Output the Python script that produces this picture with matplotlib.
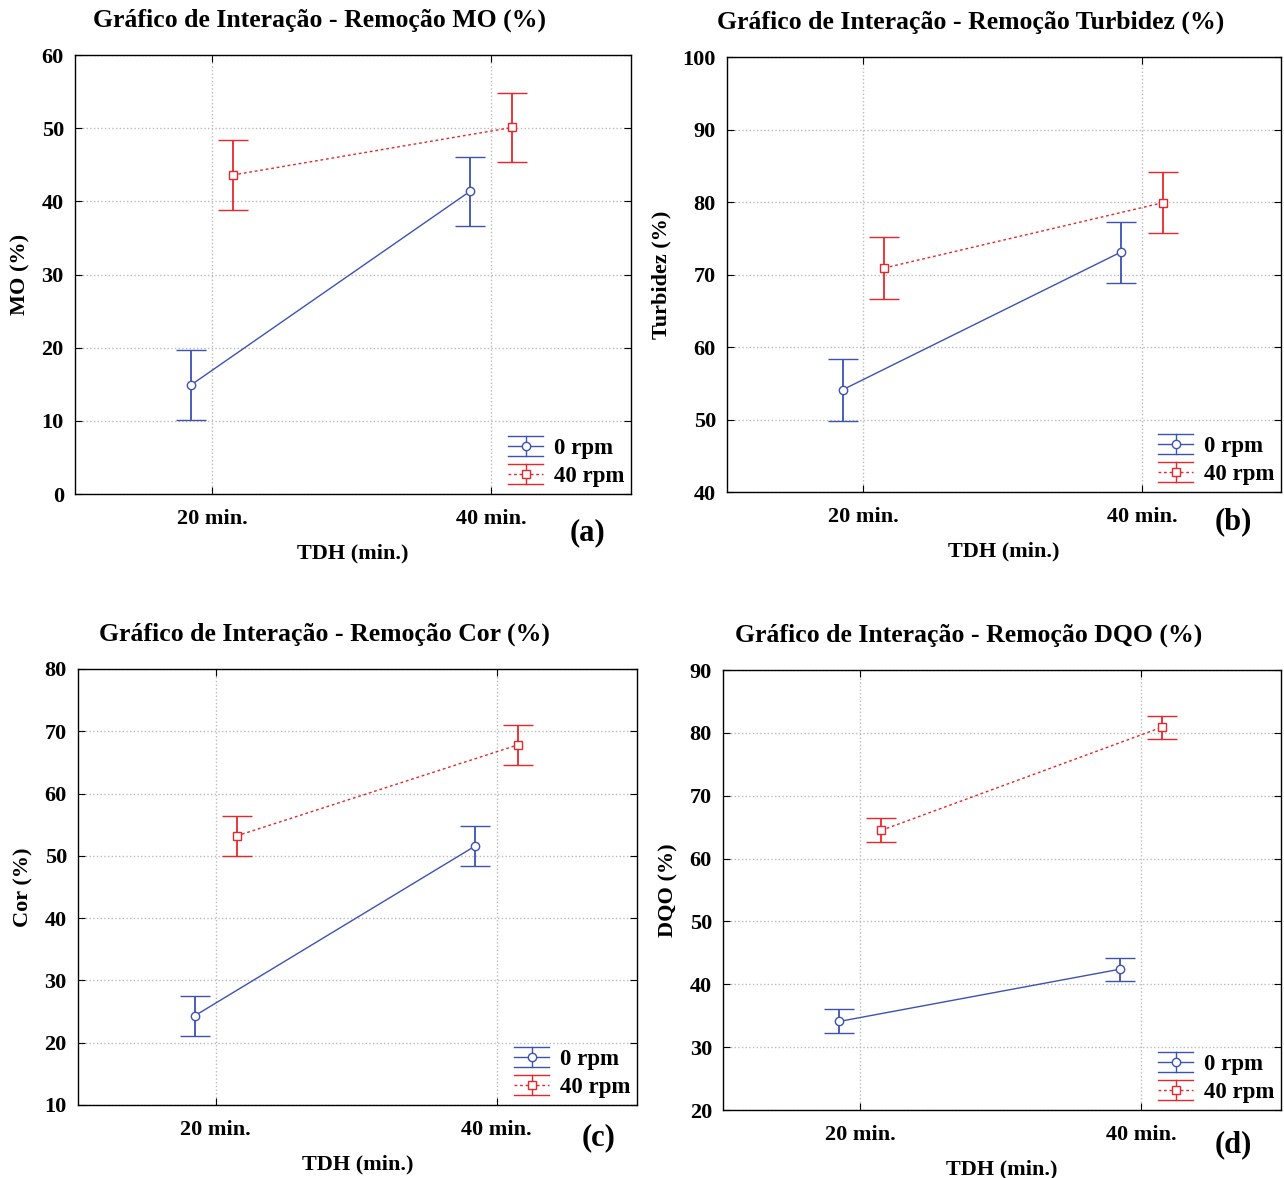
import matplotlib.pyplot as plt
from matplotlib.legend_handler import HandlerBase
from matplotlib.lines import Line2D
import numpy as np

plt.rcParams['font.family'] = ['Liberation Serif', 'DejaVu Serif']
plt.rcParams['font.weight'] = 'bold'

categorias = ["20 min.", "40 min."]
series = ["0 rpm", "40 rpm"]

titulos = ["Gráfico de Interação - Remoção MO (%)",
           "Gráfico de Interação - Remoção Turbidez (%)",
           "Gráfico de Interação - Remoção Cor (%)",
           "Gráfico de Interação - Remoção DQO (%)"]
ylabels = ["MO (%)", "Turbidez (%)", "Cor (%)", "DQO (%)"]
letras = ["(a)", "(b)", "(c)", "(d)"]
ylims = [(0, 60), (40, 100), (10, 80), (20, 90)]

# means [0 rpm, 40 rpm] at [20, 40 min]
mo_0 = [14.9, 41.4]
mo_40 = [43.6, 50.1]
mo_err = [4.8, 4.7]
turb_0 = [54.1, 73.1]
turb_40 = [70.9, 79.9]
turb_err = [4.3, 4.2]
cor_0 = [24.3, 51.6]
cor_40 = [53.2, 67.8]
cor_err = [3.2, 3.2]
dqo_0 = [34.1, 42.4]
dqo_40 = [64.5, 80.9]
dqo_err = [1.9, 1.8]

dados = [(mo_0, mo_40, mo_err), (turb_0, turb_40, turb_err),
         (cor_0, cor_40, cor_err), (dqo_0, dqo_40, dqo_err)]

posicoes = [[0.0584, 0.5806, 0.4330, 0.3727],
            [0.5662, 0.5823, 0.4315, 0.3693],
            [0.0607, 0.0620, 0.4354, 0.3701],
            [0.5631, 0.0577, 0.4346, 0.3735]]
# panel letter offsets from lower-right corner, in pixels
letra_dx = [-43, -48, -38, -48]
letra_dy = [-39, -30, -33, -35]

azul = '#3d52b4'
vermelho = '#e8262b'


class HandlerBarra(HandlerBase):
    # legend key: caps top and bottom, line with marker in the middle
    def __init__(self, color, ls, marker, ms):
        super().__init__()
        self.color = color
        self.ls = ls
        self.marker = marker
        self.ms = ms

    def create_artists(self, legend, orig_handle, xdescent, ydescent,
                       width, height, fontsize, trans):
        x0 = -xdescent
        x1 = x0 + width
        xm = (x0 + x1) / 2
        ym = -ydescent + height / 2
        h = height * 0.62
        arts = [
            Line2D([x0, x1], [ym + h, ym + h], color=self.color, lw=1.0),
            Line2D([x0, x1], [ym - h, ym - h], color=self.color, lw=1.0),
            Line2D([xm, xm], [ym - h, ym + h], color=self.color, lw=1.0),
            Line2D([x0, x1], [ym, ym], color=self.color, lw=1.0, ls=self.ls),
            Line2D([xm], [ym], color=self.color, marker=self.marker, ms=self.ms,
                   mfc='white', mec=self.color, ls='none'),
        ]
        for a in arts:
            a.set_transform(trans)
        return arts


fig = plt.figure(figsize=(12.84, 11.78), dpi=100)
x = np.arange(len(categorias))
px = 0.72  # points per pixel at dpi 100
for i in range(4):
    ax = fig.add_axes(posicoes[i])
    s0, s40, err = dados[i]
    ax.errorbar(x - 0.075, s0, yerr=err, color=azul, lw=1.0, ls='-',
                marker='o', ms=6, mfc='white', mec=azul, capsize=10.5,
                capthick=1.0, elinewidth=1.3)
    ax.errorbar(x + 0.075, s40, yerr=err, color=vermelho, lw=1.0, ls=(0, (2, 2)),
                marker='s', ms=6, mfc='white', mec=vermelho, capsize=10.5,
                capthick=1.0, elinewidth=1.3)
    ax.set_xlim(-0.49, 1.5)
    ax.set_ylim(*ylims[i])
    ax.set_xticks(x)
    ax.set_xticklabels(categorias)
    ax.grid(True, ls=':', color='#bbbbbb', lw=1.0)
    ax.tick_params(direction='in', top=True, right=True, labelsize=16, length=5)
    ax.tick_params(axis='x', pad=11)
    ax.tick_params(axis='y', pad=8)
    for lab in ax.get_xticklabels() + ax.get_yticklabels():
        lab.set_fontweight('bold')
    for sp in ax.spines.values():
        sp.set_linewidth(1.0)
    ax.annotate(titulos[i], xy=(0.5, 1), xycoords='axes fraction',
                xytext=(-33 * px, 35 * px), textcoords='offset points',
                ha='center', va='center', fontsize=18.5, fontweight='bold')
    ax.set_xlabel("TDH (min.)", fontsize=16, fontweight='bold', labelpad=10)
    ax.set_ylabel(ylabels[i], fontsize=16, fontweight='bold', labelpad=8)

    h0 = Line2D([], [], color=azul)
    h1 = Line2D([], [], color=vermelho)
    ax.legend([h0, h1], series, loc='lower right', frameon=False, fontsize=16.5,
              handlelength=1.55, borderaxespad=0.0, borderpad=0.3,
              labelspacing=0.3, handletextpad=0.45,
              handler_map={h0: HandlerBarra(azul, '-', 'o', 6),
                           h1: HandlerBarra(vermelho, (0, (2, 2)), 's', 6)})
    ax.annotate(letras[i], xy=(1, 0), xycoords='axes fraction',
                xytext=(letra_dx[i] * px, letra_dy[i] * px), textcoords='offset points',
                fontsize=22, fontweight='bold', ha='center', va='center')

plt.savefig("out.png", dpi=100)
